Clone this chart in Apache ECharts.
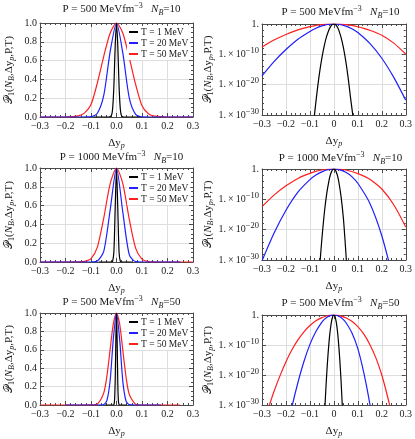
<!DOCTYPE html>
<html>
<head>
<meta charset="utf-8">
<script src="https://cdn.jsdelivr.net/npm/echarts@6/dist/echarts.min.js"></script>
<style>
html, body { margin: 0; padding: 0; background: #fff; }
#chart { width: 415px; height: 439px; }
</style>
</head>
<body>
<div id="chart"></div>
<script>
// legend names and colours
var temps = ['T = 1 MeV', 'T = 20 MeV', 'T = 50 MeV'];
var colors = ['#000000', '#1f1fff', '#ff1f1f'];

// panel titles: pressure (MeV fm^-3), baryon number
var pressures = ['500', '1000', '500'];
var baryons = ['10', '10', '50'];

// curves: [dy_p, log10 P1]
var p500nb10_T1 = [[-0.09,-37],[-0.08,-29.2],[-0.07,-22.3],[-0.06,-16.2],[-0.05,-11.2],[-0.04,-7.1],[-0.03,-4.0],[-0.02,-1.8],[-0.015,-1.02],[-0.01,-0.46],[-0.005,-0.115],[0,0],[0.005,-0.118],[0.01,-0.48],[0.015,-1.08],[0.02,-1.93],[0.03,-4.4],[0.04,-7.9],[0.05,-12.4],[0.06,-18],[0.07,-24.6],[0.08,-30.8],[0.09,-40]];
var p500nb10_T20 = [[-0.3,-17.1],[-0.25,-12.4],[-0.2,-8.4],[-0.15,-5.0],[-0.1,-2.45],[-0.075,-1.4],[-0.05,-0.64],[-0.025,-0.16],[0,0],[0.025,-0.17],[0.05,-0.69],[0.075,-1.55],[0.1,-2.8],[0.15,-6.4],[0.2,-11.3],[0.25,-17.6],[0.3,-25.1]];
var p500nb10_T50 = [[-0.3,-7.6],[-0.25,-5.3],[-0.2,-3.45],[-0.15,-1.95],[-0.125,-1.36],[-0.1,-0.88],[-0.075,-0.44],[-0.05,-0.19],[-0.025,-0.05],[0,0],[0.025,-0.05],[0.05,-0.2],[0.075,-0.46],[0.1,-0.92],[0.125,-1.45],[0.15,-2.05],[0.2,-3.7],[0.25,-6.3],[0.3,-9.9]];

var p1000nb10_T1 = [[-0.07,-45],[-0.06,-33],[-0.05,-23],[-0.04,-14.6],[-0.03,-8.2],[-0.02,-3.65],[-0.015,-2.05],[-0.01,-0.92],[-0.005,-0.23],[0,0],[0.005,-0.24],[0.01,-0.97],[0.015,-2.2],[0.02,-3.95],[0.03,-9.1],[0.04,-16.5],[0.05,-27.5],[0.06,-40]];
var p1000nb10_T20 = [[-0.3,-30.3],[-0.25,-21.2],[-0.2,-13.6],[-0.15,-7.6],[-0.1,-3.5],[-0.075,-2.0],[-0.05,-0.95],[-0.025,-0.26],[0,0],[0.025,-0.28],[0.05,-1.1],[0.075,-2.5],[0.1,-4.7],[0.15,-11.3],[0.2,-22],[0.25,-37]];
var p1000nb10_T50 = [[-0.3,-12.4],[-0.25,-8.6],[-0.2,-5.5],[-0.15,-3.1],[-0.125,-2.2],[-0.1,-1.45],[-0.075,-0.8],[-0.05,-0.33],[-0.025,-0.08],[0,0],[0.025,-0.08],[0.05,-0.34],[0.075,-0.83],[0.1,-1.52],[0.125,-2.35],[0.15,-3.4],[0.2,-6.6],[0.25,-11.8],[0.3,-19.1]];

var p500nb50_T1 = [[-0.045,-45],[-0.04,-35.5],[-0.035,-27],[-0.03,-19.8],[-0.025,-13.8],[-0.02,-8.8],[-0.015,-5.0],[-0.01,-2.2],[-0.0075,-1.25],[-0.005,-0.55],[-0.0025,-0.14],[0,0],[0.0025,-0.15],[0.005,-0.6],[0.0075,-1.35],[0.01,-2.4],[0.015,-5.4],[0.02,-9.8],[0.025,-15.3],[0.03,-22],[0.035,-30],[0.04,-39.5]];
var p500nb50_T20 = [[-0.2,-40],[-0.175,-30.6],[-0.15,-22.5],[-0.125,-15.5],[-0.1,-9.8],[-0.075,-5.5],[-0.05,-2.35],[-0.0375,-1.3],[-0.025,-0.58],[-0.0125,-0.145],[0,0],[0.0125,-0.15],[0.025,-0.6],[0.0375,-1.37],[0.05,-2.5],[0.075,-5.9],[0.1,-11.2],[0.125,-19.3],[0.15,-29.6],[0.175,-42]];
var p500nb50_T50 = [[-0.3,-38],[-0.275,-31.5],[-0.25,-25.5],[-0.225,-20.3],[-0.2,-15.6],[-0.175,-11.6],[-0.15,-8.3],[-0.125,-5.6],[-0.1,-3.5],[-0.075,-1.95],[-0.05,-0.88],[-0.0375,-0.5],[-0.025,-0.22],[-0.0125,-0.055],[0,0],[0.0125,-0.056],[0.025,-0.23],[0.0375,-0.52],[0.05,-0.93],[0.075,-2.1],[0.1,-3.9],[0.125,-6.4],[0.15,-9.8],[0.175,-14.2],[0.2,-20],[0.225,-27.5],[0.25,-36]];

var curves = [
    [p500nb10_T1, p500nb10_T20, p500nb10_T50],
    [p1000nb10_T1, p1000nb10_T20, p1000nb10_T50],
    [p500nb50_T1, p500nb50_T20, p500nb50_T50]
];

var font = "'Liberation Serif', 'DejaVu Serif', serif";
var frameColor = '#4a4a4a';
var gridColor = '#dedede';
var textColor = '#1a1a1a';

var leftTops = [23, 168, 313];
var rightTops = [24, 169, 315];

var richText = {
    i: {fontFamily: font, fontStyle: 'italic', fontSize: 11, color: textColor},
    sub: {fontFamily: font, fontStyle: 'italic', fontSize: 8, color: textColor, padding: [6, 0, 0, 0]},
    subr: {fontFamily: font, fontSize: 8, color: textColor, padding: [6, 0, 0, 0]},
    sup: {fontFamily: font, fontSize: 8, color: textColor, padding: [0, 0, 7, 0]},
    s: {fontFamily: "'DejaVu Serif', 'DejaVu Sans', serif", fontSize: 11, color: textColor}
};

function fmtLin(v) {
    return (v < -1e-9 ? '\u2212' : '') + Math.abs(v).toFixed(1);
}
function fmtLinX0(v) {
    if (Math.abs(v) < 1e-9) return '0';
    return fmtLin(v);
}
// right panels: the axis runs over log10 of the probability (log axis of v6 loses 1e-30)
function fmtExp(v) {
    var e = Math.round(v);
    if (e === 0) return '1.';
    return '1.\u2009\u00d7\u200910{e|\u2212' + (-e) + '}';
}

var grids = [], xAxes = [], yAxes = [], series = [], titles = [], legends = [];

function addPanel(row, isLog) {
    var g = grids.length;
    if (isLog) grids.push({left: 262, top: rightTops[row], width: 147, height: 91});
    else grids.push({left: 40, top: leftTops[row], width: 153, height: 94});

    var tickStyle = {color: frameColor, width: 1};
    xAxes.push({
        type: 'value', gridIndex: g, min: -0.3, max: 0.3, interval: 0.1,
        axisLine: {show: true, onZero: false, lineStyle: tickStyle},
        axisTick: {inside: true, length: 4, lineStyle: tickStyle},
        minorTick: {show: true, splitNumber: 5, length: 2, lineStyle: tickStyle},
        splitLine: {show: true, lineStyle: {color: gridColor, width: 1}},
        axisLabel: {fontFamily: font, fontSize: 10, color: textColor, margin: 4,
            showMinLabel: true, showMaxLabel: true, formatter: isLog ? fmtLinX0 : fmtLin},
        name: '\u0394y{sub|p}', nameLocation: 'middle', nameGap: 19,
        nameTextStyle: {fontFamily: font, fontSize: 11, color: textColor, rich: richText}
    });
    xAxes.push({
        type: 'value', gridIndex: g, position: 'top', min: -0.3, max: 0.3, interval: 0.1,
        axisLine: {show: true, onZero: false, lineStyle: tickStyle},
        axisTick: {inside: true, length: 4, lineStyle: tickStyle},
        minorTick: {show: true, splitNumber: 5, length: 2, lineStyle: tickStyle},
        splitLine: {show: false}, axisLabel: {show: false}
    });

    var yName = '{s|\ud835\udcab}{subr|1}({i|N}{sub|B},\u0394y{sub|p},P,T)';
    var yNameStyle = {fontFamily: font, fontSize: 11, color: textColor, rich: richText};
    if (isLog) {
        yAxes.push({
            type: 'value', gridIndex: g, min: -30, max: 0, interval: 10,
            axisLine: {show: true, onZero: false, lineStyle: tickStyle},
            axisTick: {inside: true, length: 4, lineStyle: tickStyle},
            minorTick: {show: true, splitNumber: 5, length: 2, lineStyle: tickStyle},
            splitLine: {show: true, lineStyle: {color: gridColor, width: 1}},
            axisLabel: {fontFamily: font, fontSize: 10, color: textColor, margin: 3,
                showMinLabel: true, showMaxLabel: true, formatter: fmtExp,
                rich: {e: {fontFamily: font, fontSize: 8.5, color: textColor, padding: [0, 0, 7, 0]}}},
            name: yName, nameLocation: 'middle', nameGap: 46, nameTextStyle: yNameStyle
        });
        yAxes.push({
            type: 'value', gridIndex: g, position: 'right', min: -30, max: 0, interval: 10,
            axisLine: {show: true, onZero: false, lineStyle: tickStyle},
            axisTick: {inside: true, length: 4, lineStyle: tickStyle},
            minorTick: {show: true, splitNumber: 5, length: 2, lineStyle: tickStyle},
            splitLine: {show: false}, axisLabel: {show: false}
        });
    } else {
        yAxes.push({
            type: 'value', gridIndex: g, min: 0, max: 1, interval: 0.2,
            axisLine: {show: true, onZero: false, lineStyle: tickStyle},
            axisTick: {inside: true, length: 4, lineStyle: tickStyle},
            minorTick: {show: true, splitNumber: 4, length: 2, lineStyle: tickStyle},
            splitLine: {show: true, lineStyle: {color: gridColor, width: 1}},
            axisLabel: {fontFamily: font, fontSize: 10, color: textColor, margin: 3,
                showMinLabel: true, showMaxLabel: true, formatter: fmtLin},
            name: yName, nameLocation: 'middle', nameGap: 24, nameTextStyle: yNameStyle
        });
        yAxes.push({
            type: 'value', gridIndex: g, position: 'right', min: 0, max: 1, interval: 0.2,
            axisLine: {show: true, onZero: false, lineStyle: tickStyle},
            axisTick: {inside: true, length: 4, lineStyle: tickStyle},
            minorTick: {show: true, splitNumber: 4, length: 2, lineStyle: tickStyle},
            splitLine: {show: false}, axisLabel: {show: false}
        });
    }

    // draw red, blue, then black on top
    for (var k = 2; k >= 0; k--) {
        series.push({
            type: 'line', name: temps[k],
            xAxisIndex: 2 * g, yAxisIndex: 2 * g,
            data: curves[row][k].map(function (d) {
                return isLog ? [d[0], d[1]] : [d[0], Math.pow(10, d[1])];
            }),
            showSymbol: false, symbol: 'none', smooth: 0.25, clip: true,
            lineStyle: {width: 1.2, color: colors[k]},
            itemStyle: {color: colors[k]},
            emphasis: {disabled: true}
        });
    }

    titles.push({
        text: 'P = ' + pressures[row] + ' MeVfm{sup|\u22123}   {i|N}{sub|B}=' + baryons[row],
        left: isLog ? 335.5 : 116.5, textAlign: 'center',
        top: isLog ? [0, 146, 291][row] : [-3, 145, 290][row],
        textStyle: {fontFamily: font, fontSize: 11, fontWeight: 'normal', color: textColor, rich: richText}
    });

    if (!isLog) {
        legends.push({
            data: temps, orient: 'vertical', left: 127, top: leftTops[row] + 3,
            icon: 'rect', itemWidth: 9, itemHeight: 2, itemGap: 1,
            padding: [1, 2, 1, 2], backgroundColor: '#ffffff', selectedMode: false,
            textStyle: {fontFamily: font, fontSize: 9.5, color: textColor, lineHeight: 10, padding: [0, 0, 0, -2]}
        });
    }
}

for (var r = 0; r < 3; r++) {
    addPanel(r, false);
    addPanel(r, true);
}

var myChart = echarts.init(document.getElementById('chart'), null, {renderer: 'canvas'});
myChart.setOption({
    animation: false,
    backgroundColor: '#ffffff',
    title: titles,
    legend: legends,
    grid: grids,
    xAxis: xAxes,
    yAxis: yAxes,
    series: series
});
</script>
</body>
</html>
